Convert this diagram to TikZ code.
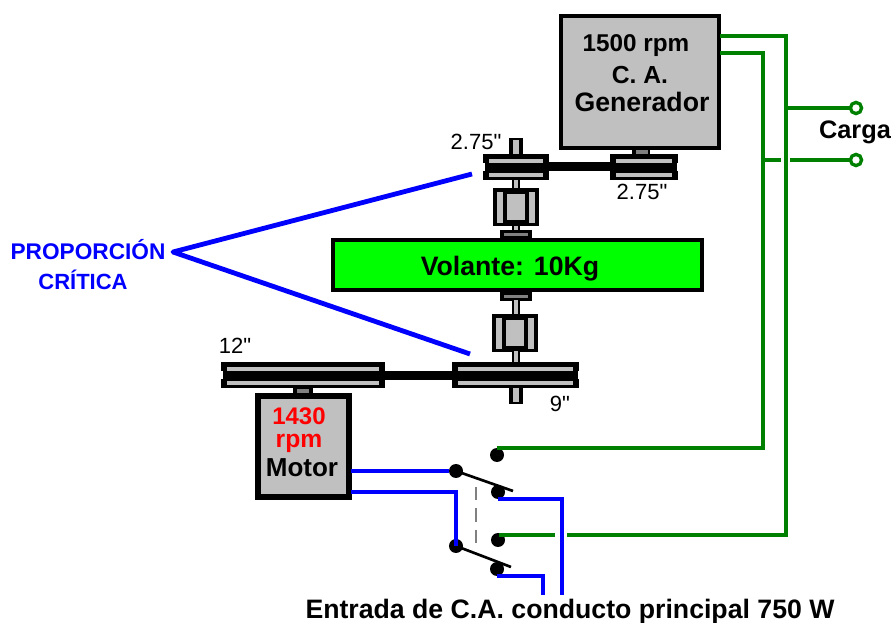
\documentclass[tikz,border=0pt]{standalone}
\usepackage{fontspec}
\setmainfont{Liberation Sans}
\newfontfamily\plainsans{Liberation Sans}
\definecolor{gry}{HTML}{C0C0C0}
\definecolor{dgry}{HTML}{808080}
\definecolor{grn}{HTML}{008000}
\definecolor{lime}{HTML}{00FF00}
\definecolor{blu}{HTML}{0000FF}
\newcommand{\bx}[5]{\fill[#5] (#1,#2) rectangle (#3,#4);}
\newcommand{\pulley}[3]{% x1 x2 ytop
  \bx{#1}{#3}{#2}{#3+26}{black}
  \bx{#1+6}{#3+5}{#2-6}{#3+9}{gry}
  \bx{#1+6}{#3+19}{#2-6}{#3+23}{gry}
  \bx{#1}{#3+9}{#1+1.5}{#3+17}{white}
  \bx{#2-1.5}{#3+9}{#2}{#3+17}{white}}
\newcommand{\coupling}[2]{% xcentre ytop
  \bx{#1-23}{#2}{#1+23}{#2+38}{black}
  \bx{#1-19}{#2+4}{#1-13}{#2+35}{gry}
  \bx{#1+13}{#2+4}{#1+19}{#2+35}{gry}
  \bx{#1-9}{#2+6}{#1+9}{#2+32}{gry}}
\newcommand{\shcap}[2]{% xcentre ytop
  \bx{#1-16}{#2}{#1+16}{#2+9}{black}
  \bx{#1-12}{#2+3}{#1+12}{#2+6}{dgry}}
\newcommand{\shaft}[3]{% xcentre y1 y2
  \bx{#1-4}{#2}{#1+4}{#3}{black}
  \bx{#1-2}{#2}{#1+2}{#3}{gry}}
\newcommand{\wideshaft}[3]{% xcentre y1 y2
  \bx{#1-7}{#2}{#1+7}{#3}{black}
  \bx{#1-3}{#2+2}{#1+3}{#3-2}{gry}}
\newcommand{\bsz}[1]{\fontsize{#1}{#1}\selectfont\bfseries}
\tikzset{
  x=0.75pt,y=-0.75pt,
  mach/.style={draw=black,fill=gry,line width=3pt,minimum width=0pt,minimum height=0pt,inner sep=0pt,outer sep=0pt,anchor=north west},
  lab/.style={inner sep=0pt,anchor=base,text=black},
  dim/.style={inner sep=0pt,anchor=base,font=\plainsans\fontsize{16.5}{16.5}\selectfont,text=black},
  bl/.style={draw=blu,line width=2.7pt},
  gl/.style={draw=grn,line width=2.6pt},
  pt/.style={circle,fill=black,minimum size=10.5pt,inner sep=0pt,outer sep=0pt},
  term/.style={circle,draw=grn,fill=white,line width=2.5pt,minimum size=8.4pt,inner sep=0pt,outer sep=0pt},
  arm/.style={draw=black,line width=2pt}
}
\begin{document}
\begin{tikzpicture}
\useasboundingbox (0,0) rectangle (893,623);
% shafts and pulleys
\wideshaft{516}{138}{156}
\shaft{516}{178}{190}
\shaft{516}{225}{232}
\coupling{516}{188}
\shcap{516}{230}
\pulley{483}{549}{154}
\pulley{610}{678}{154}
\bx{545}{162}{614}{171}{black}
\bx{632}{148}{650}{155}{black}
\bx{636}{150}{648}{154}{dgry}
\node[mach,minimum width=118.5pt,minimum height=99pt] (gen) at (560.5,16.5) {};
\node[mach,fill=lime,minimum width=277pt,minimum height=37pt] (fly) at (332.5,240.5) {};
\shcap{516}{292}
\shaft{516}{300}{316}
\coupling{515}{314}
\shaft{516}{351}{364}
\wideshaft{516}{386}{404}
\pulley{221}{385}{362}
\pulley{452}{579}{362}
\bx{381}{371}{456}{380}{black}
\bx{293}{387}{313}{395}{black}
\bx{297}{389}{309}{394}{dgry}
\node[mach,line width=4.2pt,minimum width=68.25pt,minimum height=75.75pt] (mot) at (258,396) {};
% labels of machines
\node[lab,font=\bsz{18.2}] (t1) at (636,52) {1500 rpm};
\node[lab,font=\bsz{18.5}] (t2) at (640,84) {C. A.};
\node[lab,font=\bsz{20}] (t3) at (642,112) {Generador};
\node[lab,font=\bsz{20}] (t4) at (510,276) {Volante: 10Kg};
\node[lab,text=red,font=\bsz{18}] (t5) at (299,425) {1430};
\node[lab,text=red,font=\bsz{18.5}] (t6) at (299,448) {rpm};
\node[lab,font=\bsz{19.5}] (t7) at (302,477) {Motor};
\node[dim] (d1) at (476,150) {2.75"};
\node[dim] (d2) at (642,200) {2.75"};
\node[dim] (d3) at (235,354) {12"};
\node[dim] (d4) at (560,412) {9"};
% proportion
\node[lab,text=blu,font=\bsz{17}] (p1) at (88,260) {PROPORCIÓN};
\node[lab,text=blu,font=\bsz{16.5}] (p2) at (83,290) {CRÍTICA};
\coordinate (apex) at (173,252);
\coordinate (pa) at (472,174);
\coordinate (pb) at (470,354);
\draw[draw=blu,line width=3.6pt,line join=round] (pa) -- (apex) -- (pb);
% carga
\node[lab,font=\bsz{19}] (carga) at (855,139) {Carga};
\node[term] (ta) at (856,108) {};
\node[term] (tb) at (856,160) {};
% switch points
\node[pt] (s1) at (456,471) {};
\node[pt] (s2) at (498,492) {};
\node[pt] (s3) at (497,455) {};
\node[pt] (s4) at (456,546) {};
\node[pt] (s5) at (497,569) {};
\node[pt] (s6) at (498,540) {};
\coordinate (a1) at (513,491);
\coordinate (a2) at (511,567);
\draw[arm] (s1.center) -- (a1);
\draw[arm] (s4.center) -- (a2);
\coordinate (d1a) at (476,487);
\coordinate (d1b) at (476,546);
\draw[draw=dgry,line width=1.1pt,dash pattern=on 10pt off 6pt] (d1a) -- (d1b);
% blue wiring
\coordinate (m1) at (351,471);
\coordinate (m2) at (351,492);
\coordinate (e1) at (562,595);
\coordinate (e2) at (543,595);
\coordinate (b1) at (498,499);
\coordinate (b2) at (497,576);
\draw[bl] (m1) -- (s1);
\draw[bl] (m2) -| (s4.center);
\draw[bl] (b1) -| (e1);
\draw[bl] (b2) -| (e2);
% green wiring
\coordinate (g1) at (720,36);
\coordinate (g2) at (720,53);
\coordinate (v1) at (786,108);
\coordinate (v2) at (763,160);
\coordinate (gapL) at (781,160);
\coordinate (gapR) at (790,160);
\coordinate (h1) at (786,535);
\coordinate (h2) at (567,535);
\coordinate (h3) at (555,535);
\coordinate (h4) at (499,535);
\coordinate (h5) at (763,448);
\coordinate (h6) at (497,448);
\draw[gl] (g1) -| (h1) -- (h2);
\draw[gl] (h3) -- (h4);
\draw[gl] (g2) -| (h5) -- (h6);
\draw[gl] (v1) -- (ta);
\draw[gl] (v2) -- (gapL);
\draw[gl] (gapR) -- (tb);
% bottom text
\node[lab,font=\bsz{20}] (bot) at (570,618) {Entrada de C.A. conducto principal 750 W};
\end{tikzpicture}
\end{document}
